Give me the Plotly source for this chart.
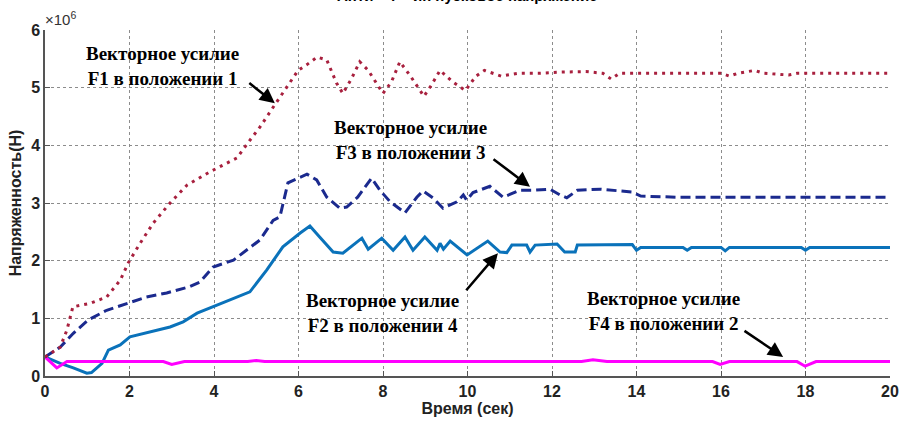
import plotly.graph_objects as go

# F1 (red dotted) - position 1
t1 = [0, 0.36, 0.52, 0.66, 1.07, 1.46, 1.78, 1.97, 2.25, 2.56, 2.96, 3.36, 3.9, 4.54, 4.8, 5.09, 5.4,
      5.73, 5.99, 6.2, 6.44, 6.67, 6.9, 7.05, 7.25, 7.45, 7.65, 8.0, 8.2, 8.4, 8.65, 8.97, 9.15, 9.35,
      9.65, 9.95, 10.2, 10.4, 10.8, 11.2, 11.7, 12.2, 12.8, 13.2, 13.4, 13.6, 14, 15, 16, 16.2, 16.4,
      16.8, 17.0, 17.6, 17.8, 18, 19, 20]
f1 = [0.33, 0.5, 0.8, 1.2, 1.26, 1.37, 1.66, 1.96, 2.3, 2.65, 3.0, 3.31, 3.54, 3.78, 4.04, 4.32, 4.66,
      5.01, 5.3, 5.4, 5.53, 5.48, 5.08, 4.9, 5.15, 5.45, 5.3, 4.9, 5.1, 5.45, 5.2, 4.85, 5.05, 5.3,
      5.1, 4.95, 5.2, 5.3, 5.2, 5.25, 5.25, 5.27, 5.28, 5.25, 5.15, 5.25, 5.25, 5.25, 5.25, 5.2, 5.25,
      5.3, 5.25, 5.22, 5.25, 5.25, 5.25, 5.25]

# F3 (navy dashed) - position 3
t3 = [0, 0.36, 0.67, 1.02, 1.46, 1.85, 2.4, 2.88, 3.43, 3.67, 3.98, 4.46, 4.77, 5.09, 5.4, 5.56, 5.75,
      6.04, 6.2, 6.43, 6.67, 6.98, 7.14, 7.4, 7.73, 7.93, 8.17, 8.52, 8.8, 8.95, 9.18, 9.42, 9.75, 9.9,
      9.98, 10.13, 10.53, 10.84, 11.24, 11.55, 11.95, 12.19, 12.35, 12.6, 13.14, 13.9, 14.1, 15, 16, 17,
      18, 19, 20]
f3 = [0.33, 0.5, 0.74, 0.97, 1.14, 1.23, 1.37, 1.44, 1.55, 1.63, 1.89, 2.01, 2.18, 2.36, 2.7, 2.76, 3.35,
      3.45, 3.5, 3.4, 3.1, 2.91, 2.93, 3.1, 3.43, 3.22, 3.02, 2.83, 3.1, 3.21, 3.09, 2.91, 3.02, 3.14,
      3.05, 3.18, 3.29, 3.1, 3.22, 3.22, 3.24, 3.14, 3.09, 3.22, 3.24, 3.19, 3.12, 3.1, 3.1, 3.1,
      3.1, 3.1, 3.1]

# F2 (blue solid) - position 4
t2 = [0, 0.36, 0.67, 0.99, 1.1, 1.35, 1.5, 1.78, 2.01, 2.49, 2.96, 3.27, 3.6, 4.07, 4.46, 4.85, 5.25,
      5.63, 6.04, 6.27, 6.5, 6.82, 7.05, 7.5, 7.65, 7.97, 8.24, 8.52, 8.71, 8.99, 9.28, 9.35, 9.43,
      9.59, 9.99, 10.15, 10.48, 10.77, 10.93, 11.05, 11.4, 11.48, 11.6, 12.12, 12.3, 12.55, 12.6,
      13.9, 14.0, 14.1, 15.1, 15.2, 15.3, 16.0, 16.1, 16.2, 17.9, 18.0, 18.1, 20]
f2 = [0.33, 0.22, 0.14, 0.05, 0.06, 0.22, 0.45, 0.54, 0.68, 0.76, 0.85, 0.94, 1.09, 1.23, 1.35, 1.46, 1.84,
      2.24, 2.48, 2.6, 2.41, 2.15, 2.13, 2.39, 2.2, 2.39, 2.18, 2.41, 2.18, 2.41, 2.18, 2.3, 2.2,
      2.34, 2.1, 2.18, 2.34, 2.15, 2.14, 2.27, 2.27, 2.15, 2.27, 2.29, 2.15, 2.15, 2.27,
      2.28, 2.18, 2.23, 2.23, 2.18, 2.23, 2.23, 2.17, 2.23, 2.23, 2.18, 2.23, 2.23]

# F4 (magenta solid) - position 2
t4 = [0, 0.28, 0.52, 2.8, 3.0, 3.3, 4.8, 5.0, 5.2, 12.7, 12.97, 13.3, 15.8, 15.98, 16.2, 17.8, 17.99,
      18.25, 20]
f4 = [0.33, 0.14, 0.25, 0.25, 0.2, 0.25, 0.25, 0.27, 0.25, 0.25, 0.28, 0.25, 0.25, 0.2, 0.25, 0.25, 0.17,
      0.25, 0.25]

x_ticks = [0, 2, 4, 6, 8, 10, 12, 14, 16, 18, 20]
y_ticks = [0, 1, 2, 3, 4, 5, 6]
scale = 1e6

labels = [
    "Векторное усилие<br>F1 в положении 1",
    "Векторное усилие<br>F3 в положении 3",
    "Векторное усилие<br>F2 в положении 4",
    "Векторное усилие<br>F4 в положении 2",
]
# arrow head (data), text centre (data), arrow tail (data)
arrow_heads = [(5.44, 4.73), (11.48, 3.28), (10.72, 2.13), (17.47, 0.33)]
text_pos = [(2.79, 5.37), (8.64, 4.09), (7.98, 1.09), (14.63, 1.13)]
arrow_tails = [(4.8, 5.1), (10.58, 3.78), (9.94, 1.46), (16.52, 0.8)]

fig = go.Figure()
fig.add_trace(go.Scatter(x=t2, y=[v * scale for v in f2], mode="lines",
                         line=dict(color="#0A72BA", width=3), showlegend=False))
fig.add_trace(go.Scatter(x=t4, y=[v * scale for v in f4], mode="lines",
                         line=dict(color="#FF00FF", width=3), showlegend=False))
fig.add_trace(go.Scatter(x=t3, y=[v * scale for v in f3], mode="lines",
                         line=dict(color="#1B2A8E", width=3, dash="10px,5px"), showlegend=False))
fig.add_trace(go.Scatter(x=t1, y=[v * scale for v in f1], mode="lines",
                         line=dict(color="#A8203E", width=3, dash="3px,5px"), showlegend=False))

anns = []
for lab, (tx, ty) in zip(labels, text_pos):
    anns.append(dict(x=tx, y=ty * scale, xref="x", yref="y", text="<b>" + lab + "</b>",
                     showarrow=False, align="center",
                     font=dict(family="Liberation Serif, Times New Roman, serif", size=19, color="black")))
for (hx, hy), (sx, sy) in zip(arrow_heads, arrow_tails):
    anns.append(dict(x=hx, y=hy * scale, ax=sx, ay=sy * scale, xref="x", yref="y", axref="x", ayref="y",
                     text="", showarrow=True, arrowhead=2, arrowsize=1.2, arrowwidth=2.5, arrowcolor="black"))
anns.append(dict(x=0, y=1.0, xref="paper", yref="paper", xanchor="left", yanchor="bottom",
                 text="×10<sup>6</sup>", showarrow=False, xshift=-2,
                 font=dict(family="Liberation Sans, Arial, sans-serif", size=15, color="#333")))
anns.append(dict(x=0.5, y=1.0, xref="paper", yref="paper", xanchor="center", yanchor="bottom", yshift=24,
                 text="<b>Анти - Ф - ин пусковое напряжение</b>", showarrow=False,
                 font=dict(family="Liberation Sans, Arial, sans-serif", size=15, color="black")))

fam = "Liberation Sans Narrow, Arial Narrow, Liberation Sans, Arial, sans-serif"
tickfont = dict(family=fam, size=16, color="#222")
fig.update_layout(
    width=899, height=423, margin=dict(l=45, r=9, t=30, b=47),
    paper_bgcolor="white", plot_bgcolor="white",
    annotations=anns,
    xaxis=dict(range=[0, 20], tickvals=x_ticks, ticktext=["<b>%d</b>" % v for v in x_ticks],
               showgrid=True, gridcolor="#8c8c8c", griddash="dot", gridwidth=1,
               showline=True, linecolor="#555", linewidth=1.5, mirror=False, automargin=False,
               ticks="inside", ticklen=5, tickcolor="#555", tickfont=tickfont, zeroline=False,
               title=dict(text="<b>Время (сек)</b>", standoff=4,
                          font=dict(family=fam, size=16, color="#222"))),
    yaxis=dict(range=[0, 6 * scale], tickvals=[v * scale for v in y_ticks],
               ticktext=["<b>%d</b>" % v for v in y_ticks],
               showgrid=True, gridcolor="#8c8c8c", griddash="dot", gridwidth=1,
               showline=True, linecolor="#555", linewidth=1.5, mirror=False, automargin=False,
               ticks="inside", ticklen=5, tickcolor="#555", tickfont=tickfont, zeroline=False,
               title=dict(text="<b>Напряженность(H)</b>", standoff=6,
                          font=dict(family=fam, size=16, color="#222"))),
)
fig.write_html("out.html")
